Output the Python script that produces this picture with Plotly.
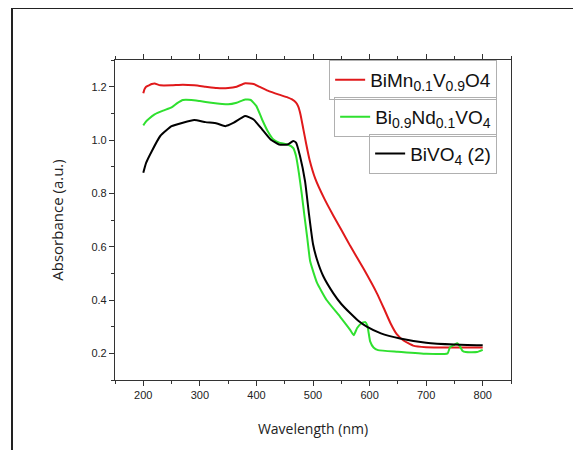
import plotly.graph_objects as go

# ---- data ----
wl_red = [200, 202, 205, 210, 215, 220, 230, 250, 270, 290, 310, 330, 350, 365, 380, 395,
          405, 420, 440, 455, 463, 470, 474, 478, 483, 488, 494, 504, 520, 536, 551, 566,
          590, 613, 625, 637, 648, 660, 677, 700, 750, 800]
abs_red = [1.175, 1.19, 1.2, 1.205, 1.21, 1.212, 1.205, 1.205, 1.207, 1.205, 1.2, 1.195, 1.195, 1.2,
           1.213, 1.21, 1.2, 1.185, 1.17, 1.16, 1.152, 1.14, 1.125, 1.095, 1.04, 0.985, 0.925, 0.855,
           0.78, 0.716, 0.66, 0.602, 0.515, 0.425, 0.37, 0.313, 0.272, 0.248, 0.229, 0.223, 0.222, 0.222]

wl_green = [200, 205, 210, 220, 235, 250, 260, 270, 285, 300, 320, 350, 365, 380, 390, 400, 410,
            420, 430, 440, 455, 465, 470, 475, 480, 485, 490, 495, 507, 524, 548, 565,
            572, 578, 585, 592, 596, 601, 607, 615, 650, 700, 738, 742, 750, 755, 760, 764, 770,
            790, 800]
abs_green = [1.055, 1.07, 1.08, 1.096, 1.11, 1.122, 1.138, 1.15, 1.15, 1.146, 1.14, 1.134, 1.14, 1.152,
             1.15, 1.127, 1.077, 1.033, 1.002, 0.99, 0.983, 0.97, 0.94, 0.877, 0.80, 0.714, 0.63,
             0.545, 0.465, 0.40, 0.337, 0.29, 0.268, 0.295, 0.312, 0.318, 0.305, 0.245,
             0.222, 0.212, 0.206, 0.198, 0.2, 0.222, 0.232, 0.238, 0.225, 0.21, 0.205, 0.205, 0.213]

wl_black = [200, 205, 215, 230, 250, 270, 290, 310, 330, 345, 360, 380, 395, 410, 425, 440, 455,
            465, 470, 477, 486, 493, 500, 507, 518, 536, 550, 566, 580, 595, 620, 654, 700, 750, 800]
abs_black = [0.877, 0.914, 0.958, 1.015, 1.052, 1.065, 1.075, 1.067, 1.062, 1.052, 1.065, 1.09, 1.077,
             1.04, 1.002, 0.983, 0.983, 0.996, 0.99, 0.94, 0.845, 0.72, 0.61, 0.552, 0.49, 0.425,
             0.385, 0.35, 0.322, 0.30, 0.275, 0.256, 0.24, 0.233, 0.23]

SUB = "<sub><span style='font-size:14px'>{}</span></sub>"
names = ["BiMn" + SUB.format("0.1") + "V" + SUB.format("0.9") + "O4",
         "Bi" + SUB.format("0.9") + "Nd" + SUB.format("0.1") + "VO" + SUB.format("4"),
         "BiVO" + SUB.format("4") + " (2)"]
colors = ["#e0191b", "#2fe02f", "#000000"]

x_ticks = [200, 300, 400, 500, 600, 700, 800]
y_ticks = [0.2, 0.4, 0.6, 0.8, 1.0, 1.2]

fig = go.Figure()
series = [(wl_red, abs_red), (wl_green, abs_green), (wl_black, abs_black)]
legends = ["legend", "legend2", "legend3"]
for (xs, ys), name, col, lg in zip(series, names, colors, legends):
    fig.add_trace(go.Scatter(x=xs, y=ys, mode="lines", name=name, showlegend=True,
                             line=dict(color=col, width=2, shape="spline", smoothing=0.4),
                             legend=lg))

leg_common = dict(xanchor="right", yanchor="top", bgcolor="rgba(255,255,255,0)",
                  bordercolor="#b0b0b0", borderwidth=1,
                  font=dict(family="Liberation Sans, Arial, sans-serif", size=19, color="#111"),
                  tracegroupgap=0, itemwidth=30)

# page body adds an 8px offset; margins compensate so the plot area sits at
# x 115..511, y 60..380 in the screenshot
fig.update_layout(
    width=581, height=450, showlegend=True,
    margin=dict(l=107, r=78, t=52, b=78, autoexpand=False),
    paper_bgcolor="white", plot_bgcolor="white",
    font=dict(family="Liberation Sans, Arial, sans-serif", size=11, color="#222"),
    legend=dict(x=0.965, y=1.0, **leg_common),
    legend2=dict(x=0.965, y=0.885, **leg_common),
    legend3=dict(x=0.965, y=0.77, **leg_common),
    xaxis=dict(range=[150, 850], tickvals=x_ticks, ticks="outside", ticklen=5,
               tickcolor="#333", showline=True, linecolor="#333", linewidth=1.2,
               mirror="ticks", showgrid=False, zeroline=False, automargin=False,
               minor=dict(dtick=50, tick0=150, ticks="outside", ticklen=3, tickcolor="#333"),
               title=dict(text="Wavelength (nm)", font=dict(family="Open Sans, sans-serif", size=14),
                          standoff=23)),
    yaxis=dict(range=[0.1, 1.3], tickvals=y_ticks, tickformat=".1f", ticks="outside", ticklen=5,
               tickcolor="#333", showline=True, linecolor="#333", linewidth=1.2,
               mirror=True, showgrid=False, zeroline=False, automargin=False,
               minor=dict(dtick=0.1, tick0=0.1, ticks="outside", ticklen=3, tickcolor="#333"),
               title=dict(text="Absorbance (a.u.)", font=dict(family="Open Sans, sans-serif", size=15),
                          standoff=24)),
)

# outer frame of the picture
fig.add_shape(type="rect", xref="paper", yref="paper",
              x0=(4 - 107) / 396, x1=(600 - 107) / 396,
              y0=(372 - 470) / 320, y1=1 + (52 - 0) / 320,
              line=dict(color="#222", width=2), fillcolor="rgba(0,0,0,0)", layer="below")

fig.write_html("out.html")
